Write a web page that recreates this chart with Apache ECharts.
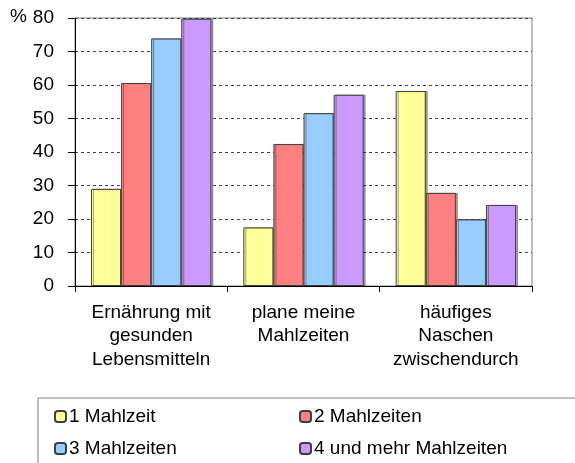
<!DOCTYPE html>
<html>
<head>
<meta charset="utf-8">
<script src="https://cdn.jsdelivr.net/npm/echarts@6/dist/echarts.min.js"></script>
<style>
  body { margin: 0; background: #fff; }
  #chart { width: 575px; height: 463px; }
</style>
</head>
<body>
<div id="chart"></div>
<script>
// Kategorien und Werte (in %)
var categories = ['Ernährung mit\ngesunden\nLebensmitteln', 'plane meine\nMahlzeiten', 'häufiges\nNaschen\nzwischendurch'];
var seriesNames = ['1 Mahlzeit', '2 Mahlzeiten', '3 Mahlzeiten', '4 und mehr Mahlzeiten'];
var mahlzeit1 = [29.0, 17.5, 58.2];
var mahlzeit2 = [60.6, 42.4, 27.8];
var mahlzeit3 = [73.9, 51.6, 19.9];
var mahlzeit4 = [79.8, 57.1, 24.2];
var colors = ['#FFFF99', '#FF8080', '#99CCFF', '#CC99FF'];

var values = [mahlzeit1, mahlzeit2, mahlzeit3, mahlzeit4];
var series = [];
for (var i = 0; i < values.length; i++) {
  series.push({
    name: seriesNames[i],
    type: 'bar',
    data: values[i],
    barGap: '0%',
    barCategoryGap: '21%',
    itemStyle: {
      color: colors[i],
      borderColor: '#404040',
      borderWidth: 1,
      shadowColor: 'rgba(0,0,0,0.35)',
      shadowOffsetX: 2,
      shadowOffsetY: 0,
      shadowBlur: 0
    }
  });
}

var font = 'Arial, "Liberation Sans", sans-serif';

// Legende: 2 Spalten x 2 Zeilen, je ein Eintrag
var legendPos = [[54, 407], [299, 407], [54, 439], [299, 439]];
var legends = [];
for (var k = 0; k < seriesNames.length; k++) {
  legends.push({
    data: [seriesNames[k]],
    left: legendPos[k][0], top: legendPos[k][1],
    padding: 0,
    itemWidth: 11, itemHeight: 11,
    textStyle: { fontSize: 19, color: '#000', fontFamily: font, padding: [0, 0, 0, -2] }
  });
}

var myChart = echarts.init(document.getElementById('chart'));
myChart.setOption({
  animation: false,
  textStyle: { fontFamily: font },
  grid: {
    left: 75, right: 43, top: 18, height: 268,
    show: true, borderColor: '#808080', borderWidth: 1
  },
  legend: legends,
  graphic: [
    {
      type: 'rect',
      shape: { x: 38, y: 398, width: 560, height: 80 },
      style: { fill: 'none', stroke: '#808080', lineWidth: 1 }
    },
    {
      type: 'text',
      left: 10, top: 7,
      style: { text: '%', fontSize: 19, fill: '#000', fontFamily: font }
    }
  ],
  xAxis: {
    type: 'category',
    data: categories,
    axisLine: { lineStyle: { color: '#000', width: 1 } },
    axisTick: { show: true, length: 6, lineStyle: { color: '#000' } },
    axisLabel: {
      fontSize: 19, color: '#000', lineHeight: 23.5, margin: 15, interval: 0
    }
  },
  yAxis: {
    type: 'value',
    min: 0, max: 80, interval: 10,
    axisLine: { show: true, lineStyle: { color: '#000', width: 1 } },
    axisTick: { show: true, length: 7, lineStyle: { color: '#000' } },
    axisLabel: { fontSize: 19, color: '#000', margin: 21 },
    splitLine: { show: true, lineStyle: { color: '#444', type: [3, 3], width: 1 } }
  },
  series: series
});
</script>
</body>
</html>
